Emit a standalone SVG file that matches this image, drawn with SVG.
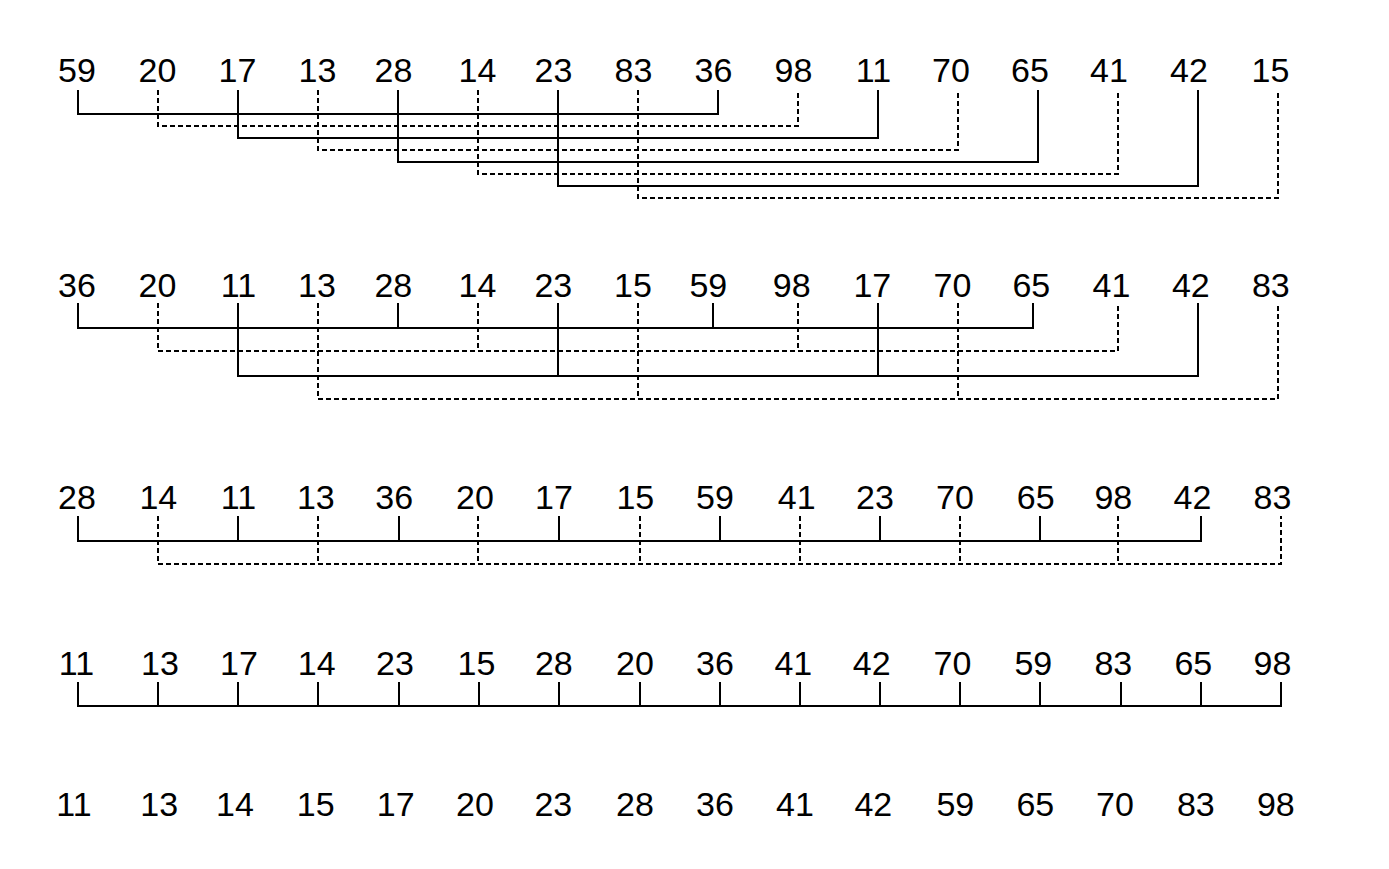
<svg xmlns="http://www.w3.org/2000/svg" width="1389" height="869" viewBox="0 0 1389 869">
<style>
text{font-family:"Liberation Sans",Arial,Helvetica,sans-serif;font-size:34px;fill:#000;text-anchor:middle}
.s{fill:none;stroke:#000;stroke-width:2}
.d{fill:none;stroke:#000;stroke-width:2;stroke-dasharray:5,3}
</style>
<rect width="1389" height="869" fill="#fff"/>
<g id="row1">
<g id="r1n0"><text x="77" y="82">59</text></g>
<g id="r1n1"><text x="157.5" y="82">20</text></g>
<g id="r1n2"><text x="237.5" y="82">17</text></g>
<g id="r1n3"><text x="317.5" y="82">13</text></g>
<g id="r1n4"><text x="393.5" y="82">28</text></g>
<g id="r1n5"><text x="477.5" y="82">14</text></g>
<g id="r1n6"><text x="553.5" y="82">23</text></g>
<g id="r1n7"><text x="633.5" y="82">83</text></g>
<g id="r1n8"><text x="713.5" y="82">36</text></g>
<g id="r1n9"><text x="793.5" y="82">98</text></g>
<g id="r1n10"><text x="873.5" y="82">11</text></g>
<g id="r1n11"><text x="951" y="82">70</text></g>
<g id="r1n12"><text x="1030" y="82">65</text></g>
<g id="r1n13"><text x="1109" y="82">41</text></g>
<g id="r1n14"><text x="1189" y="82">42</text></g>
<g id="r1n15"><text x="1270.5" y="82">15</text></g>
</g>
<g id="row2">
<g id="r2n0"><text x="77" y="297">36</text></g>
<g id="r2n1"><text x="157.5" y="297">20</text></g>
<g id="r2n2"><text x="238.4" y="297">11</text></g>
<g id="r2n3"><text x="317" y="297">13</text></g>
<g id="r2n4"><text x="393.3" y="297">28</text></g>
<g id="r2n5"><text x="477.5" y="297">14</text></g>
<g id="r2n6"><text x="553.3" y="297">23</text></g>
<g id="r2n7"><text x="633" y="297">15</text></g>
<g id="r2n8"><text x="708.3" y="297">59</text></g>
<g id="r2n9"><text x="791.7" y="297">98</text></g>
<g id="r2n10"><text x="872.3" y="297">17</text></g>
<g id="r2n11"><text x="952.5" y="297">70</text></g>
<g id="r2n12"><text x="1031.3" y="297">65</text></g>
<g id="r2n13"><text x="1111.5" y="297">41</text></g>
<g id="r2n14"><text x="1190.8" y="297">42</text></g>
<g id="r2n15"><text x="1270.8" y="297">83</text></g>
</g>
<g id="row3">
<g id="r3n0"><text x="77" y="508.5">28</text></g>
<g id="r3n1"><text x="158.3" y="508.5">14</text></g>
<g id="r3n2"><text x="238.4" y="508.5">11</text></g>
<g id="r3n3"><text x="315.8" y="508.5">13</text></g>
<g id="r3n4"><text x="394.2" y="508.5">36</text></g>
<g id="r3n5"><text x="475" y="508.5">20</text></g>
<g id="r3n6"><text x="554" y="508.5">17</text></g>
<g id="r3n7"><text x="635.3" y="508.5">15</text></g>
<g id="r3n8"><text x="715" y="508.5">59</text></g>
<g id="r3n9"><text x="796.7" y="508.5">41</text></g>
<g id="r3n10"><text x="875" y="508.5">23</text></g>
<g id="r3n11"><text x="955" y="508.5">70</text></g>
<g id="r3n12"><text x="1035.7" y="508.5">65</text></g>
<g id="r3n13"><text x="1113.3" y="508.5">98</text></g>
<g id="r3n14"><text x="1192.5" y="508.5">42</text></g>
<g id="r3n15"><text x="1272.5" y="508.5">83</text></g>
</g>
<g id="row4">
<g id="r4n0"><text x="76.5" y="675">11</text></g>
<g id="r4n1"><text x="160" y="675">13</text></g>
<g id="r4n2"><text x="239" y="675">17</text></g>
<g id="r4n3"><text x="316.7" y="675">14</text></g>
<g id="r4n4"><text x="395" y="675">23</text></g>
<g id="r4n5"><text x="476.5" y="675">15</text></g>
<g id="r4n6"><text x="553.8" y="675">28</text></g>
<g id="r4n7"><text x="635" y="675">20</text></g>
<g id="r4n8"><text x="715" y="675">36</text></g>
<g id="r4n9"><text x="793.3" y="675">41</text></g>
<g id="r4n10"><text x="871.7" y="675">42</text></g>
<g id="r4n11"><text x="952.5" y="675">70</text></g>
<g id="r4n12"><text x="1033.3" y="675">59</text></g>
<g id="r4n13"><text x="1113.3" y="675">83</text></g>
<g id="r4n14"><text x="1193.3" y="675">65</text></g>
<g id="r4n15"><text x="1272.5" y="675">98</text></g>
</g>
<g id="row5">
<g id="r5n0"><text x="74" y="816">11</text></g>
<g id="r5n1"><text x="159.2" y="816">13</text></g>
<g id="r5n2"><text x="235" y="816">14</text></g>
<g id="r5n3"><text x="315.7" y="816">15</text></g>
<g id="r5n4"><text x="395.7" y="816">17</text></g>
<g id="r5n5"><text x="475" y="816">20</text></g>
<g id="r5n6"><text x="553.3" y="816">23</text></g>
<g id="r5n7"><text x="635" y="816">28</text></g>
<g id="r5n8"><text x="715" y="816">36</text></g>
<g id="r5n9"><text x="795" y="816">41</text></g>
<g id="r5n10"><text x="873.3" y="816">42</text></g>
<g id="r5n11"><text x="955.3" y="816">59</text></g>
<g id="r5n12"><text x="1035.3" y="816">65</text></g>
<g id="r5n13"><text x="1115" y="816">70</text></g>
<g id="r5n14"><text x="1195.8" y="816">83</text></g>
<g id="r5n15"><text x="1275.8" y="816">98</text></g>
</g>
<g id="connectors">
<!-- gap 8 -->
<path class="s" d="M78,90V114H718V90"/>
<path class="d" d="M158,90V126H798V90"/>
<path class="s" d="M238,90V138H878V90"/>
<path class="d" d="M318,90V150H958V90"/>
<path class="s" d="M398,90V162H1038V90"/>
<path class="d" d="M478,90V174H1118V90"/>
<path class="s" d="M558,90V186H1198V90"/>
<path class="d" d="M638,90V198H1278V90"/>
<!-- gap 4 -->
<path class="s" d="M78,303V328H1033V303M398,303V328M713,303V328"/>
<path class="d" d="M158,303V351H1118V303M478,303V351M798,303V351"/>
<path class="s" d="M238,303V376H1198V303M558,303V376M878,303V376"/>
<path class="d" d="M318,303V399H1278V303M638,303V399M958,303V399"/>
<!-- gap 2 -->
<path class="s" d="M78,516V541H1201V516M238,516V541M399,516V541M559,516V541M720,516V541M880,516V541M1040,516V541"/>
<path class="d" d="M158,516V564H1281V516M318,516V564M478,516V564M640,516V564M800,516V564M960,516V564M1118,516V564"/>
<!-- gap 1 -->
<path class="s" d="M78,682V706H1281V682M158,682V706M238,682V706M318,682V706M399,682V706M479,682V706M559,682V706M640,682V706M720,682V706M800,682V706M880,682V706M960,682V706M1040,682V706M1121,682V706M1201,682V706"/>
</g>
</svg>
